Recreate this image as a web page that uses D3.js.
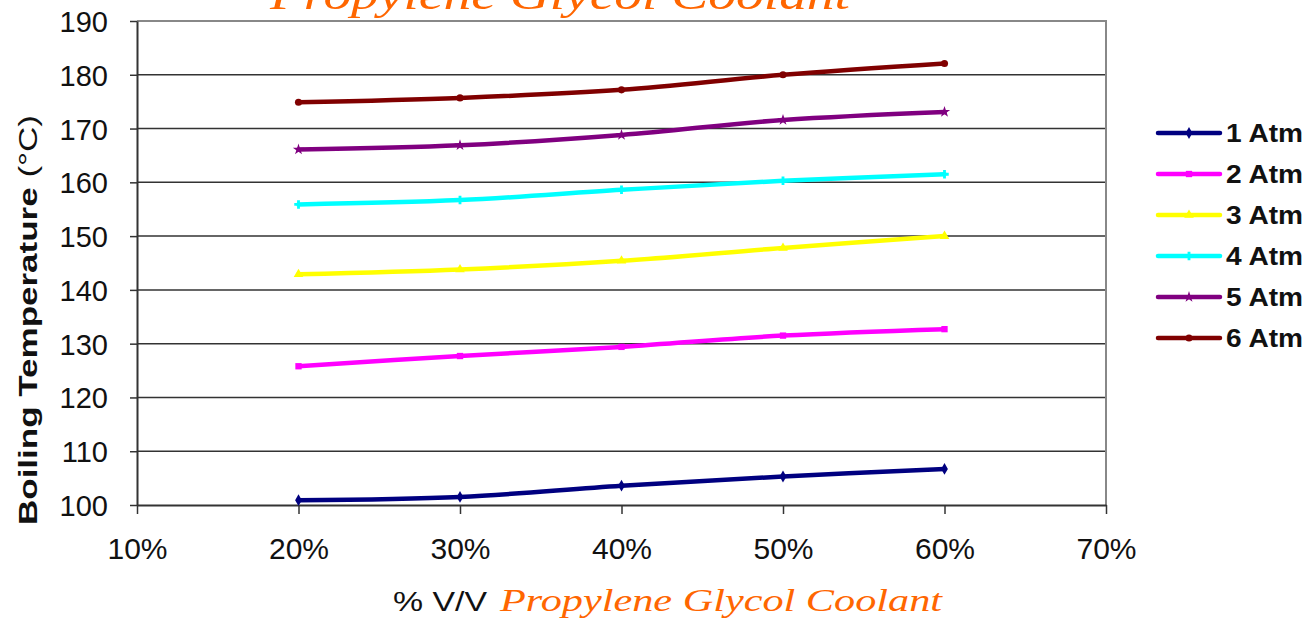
<!DOCTYPE html>
<html><head><meta charset="utf-8">
<script src="https://cdn.jsdelivr.net/npm/d3@7/dist/d3.min.js"></script>
<style>body{margin:0;background:#fff;} svg{display:block;}</style>
</head><body>
<svg id="c" width="1308" height="625"></svg>
<script>
const categories = [0.2, 0.3, 0.4, 0.5, 0.6];
const seriesNames = ["1 Atm","2 Atm","3 Atm","4 Atm","5 Atm","6 Atm"];
const atm1 = [100.9, 101.5, 103.6, 105.3, 106.7];
const atm2 = [125.8, 127.7, 129.4, 131.5, 132.7];
const atm3 = [142.9, 143.8, 145.4, 147.8, 150.0];
const atm4 = [155.9, 156.7, 158.6, 160.3, 161.5];
const atm5 = [166.1, 166.9, 168.8, 171.6, 173.1];
const atm6 = [174.9, 175.7, 177.2, 180.0, 182.1];
const seriesValues = [atm1, atm2, atm3, atm4, atm5, atm6];
const colors = ["#000080","#ff00ff","#ffff00","#00ffff","#800080","#800000"];
const xTicks = [0.1,0.2,0.3,0.4,0.5,0.6,0.7];
const yTicks = [100,110,120,130,140,150,160,170,180,190];

const svg = d3.select("#c");
const L = 137, R = 1106, T = 21, B = 505;
const x = d3.scaleLinear().domain([0.1,0.7]).range([L,R]);
const y = d3.scaleLinear().domain([100,190]).range([B,T]);
const SANS = "Liberation Sans, Arial, sans-serif";
const SCRIPT = "Liberation Serif, DejaVu Serif, serif";

// gridlines
svg.append("g").selectAll("line").data(yTicks.filter(v=>v>100 && v<190)).join("line")
  .attr("x1",L).attr("x2",R).attr("y1",d=>y(d)).attr("y2",d=>y(d))
  .attr("stroke","#333").attr("stroke-width",1.5);
// plot border top & right
svg.append("path").attr("d",`M${L},${T}H${R}V${B}`).attr("fill","none").attr("stroke","#888").attr("stroke-width",2);

// axes
const yAxis = d3.axisLeft(y).tickValues(yTicks).tickSize(7).tickPadding(22).tickSizeOuter(0);
const gy = svg.append("g").attr("transform",`translate(${L},0)`).call(yAxis);
const xAxis = d3.axisBottom(x).tickValues(xTicks).tickSize(9).tickPadding(24).tickSizeOuter(0).tickFormat(d3.format(".0%"));
const gx = svg.append("g").attr("transform",`translate(0,${B})`).call(xAxis);
[gx,gy].forEach(g=>{
  g.selectAll("text").attr("font-family",SANS).attr("font-size",29).attr("fill","#111");
  g.selectAll("line").attr("stroke","#333").attr("stroke-width",1.5);
  g.select(".domain").attr("stroke","#333").attr("stroke-width",2);
});
gx.selectAll("text").attr("dy","0.71em").attr("font-size",30);
gy.selectAll("text").attr("dy","0.36em");

// lines
const line = d3.line().x((d,i)=>x(categories[i])).y(d=>y(d)).curve(d3.curveCatmullRom.alpha(0));
const sym = [d3.symbolDiamond, d3.symbolSquare, d3.symbolTriangle, d3.symbolCross, d3.symbolStar, d3.symbolCircle];
seriesValues.forEach((vals,k)=>{
  svg.append("path").datum(vals).attr("d",line).attr("fill","none")
    .attr("stroke",colors[k]).attr("stroke-width",4.5).attr("stroke-linecap","round");
  svg.append("g").selectAll("path").data(vals).join("path")
    .attr("transform",(d,i)=>`translate(${x(categories[i])},${y(d)})`)
    .attr("d",d3.symbol().type(sym[k]).size(40)).attr("fill",colors[k]);
});

// legend
const lg = svg.append("g");
seriesNames.forEach((n,k)=>{
  const yy = 133 + k*41;
  lg.append("line").attr("x1",1158).attr("x2",1220).attr("y1",yy).attr("y2",yy)
    .attr("stroke",colors[k]).attr("stroke-width",4.5).attr("stroke-linecap","round");
  lg.append("path").attr("transform",`translate(1189,${yy})`).attr("d",d3.symbol().type(sym[k]).size(40)).attr("fill",colors[k]);
  lg.append("text").attr("x",1226).attr("y",yy).attr("dy","0.36em").text(n)
    .attr("font-family",SANS).attr("font-weight","bold").attr("font-size",26).attr("fill","#111")
    .attr("textLength",77).attr("lengthAdjust","spacingAndGlyphs");
});

// y axis title
const yt = svg.append("text").attr("transform","translate(37,320) rotate(-90)").attr("text-anchor","middle")
  .attr("font-family",SANS).attr("font-size",25).attr("fill","#111")
  .attr("textLength",410).attr("lengthAdjust","spacingAndGlyphs");
yt.append("tspan").attr("font-weight","bold").text("Boiling Temperature ");
yt.append("tspan").text("(°C)");

// x axis title
svg.append("text").attr("x",393).attr("y",611).attr("font-size",28).attr("fill","#111")
  .attr("font-family",SANS).attr("textLength",94).attr("lengthAdjust","spacingAndGlyphs").text("% V/V");
svg.append("text").attr("x",500).attr("y",611).attr("font-family",SCRIPT).attr("font-style","italic")
  .attr("fill","#ff6600").attr("font-size",32).attr("textLength",442).attr("lengthAdjust","spacingAndGlyphs")
  .text("Propylene  Glycol Coolant");

// top title (clipped at the top edge as in the reference)
svg.append("text").attr("x",270).attr("y",9)
  .attr("font-family",SCRIPT).attr("font-style","italic")
  .attr("font-size",42).attr("fill","#ff6600").attr("textLength",580).attr("lengthAdjust","spacingAndGlyphs")
  .text("Propylene  Glycol Coolant");
</script>
</body></html>
